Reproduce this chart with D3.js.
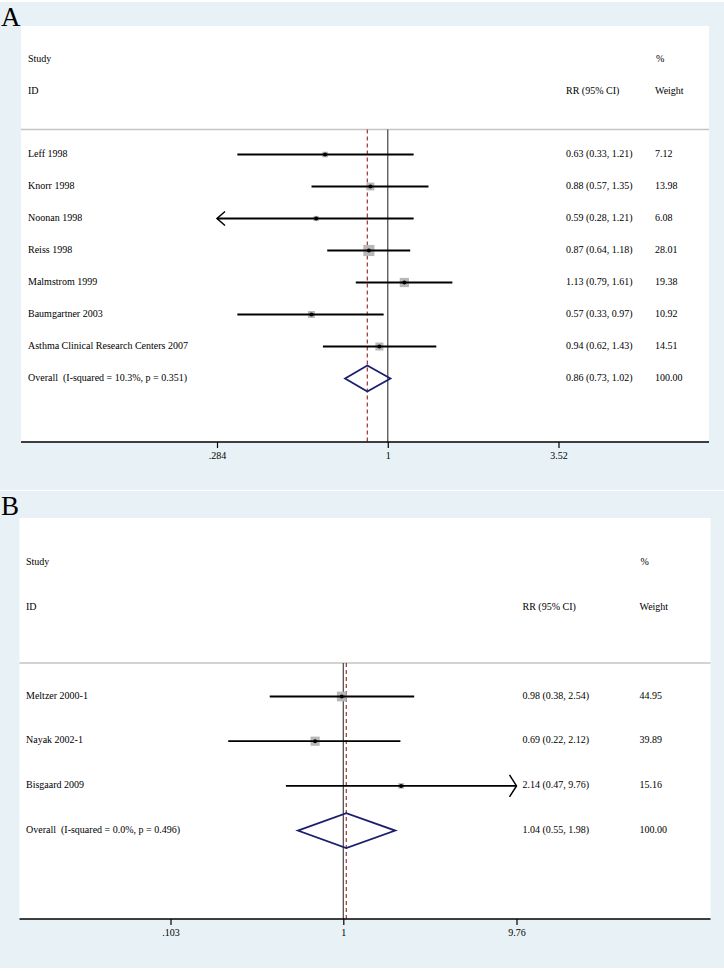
<!DOCTYPE html>
<html>
<head>
<meta charset="utf-8">
<script src="https://cdn.jsdelivr.net/npm/d3@7/dist/d3.min.js"></script>
<style>
  html, body { margin: 0; padding: 0; background: #ffffff; }
  svg { display: block; }
  text { font-family: "Liberation Serif", "Times New Roman", serif; fill: #000; }
</style>
</head>
<body>
<svg id="chart" width="724" height="971"></svg>
<script>
// ---------------- Panel A data ----------------
const studiesA = ["Leff 1998", "Knorr 1998", "Noonan 1998", "Reiss 1998", "Malmstrom 1999", "Baumgartner 2003", "Asthma Clinical Research Centers 2007"];
const rrA      = [0.63, 0.88, 0.59, 0.87, 1.13, 0.57, 0.94];
const lowA     = [0.33, 0.57, 0.28, 0.64, 0.79, 0.33, 0.62];
const highA    = [1.21, 1.35, 1.21, 1.18, 1.61, 0.97, 1.43];
const weightA  = [7.12, 13.98, 6.08, 28.01, 19.38, 10.92, 14.51];
const overallLabelA = "Overall  (I-squared = 10.3%, p = 0.351)";
const overallA = [0.86, 0.73, 1.02];   // RR, low, high
const overallWeightA = 100.00;
const ticksA = [0.284, 1, 3.52];
const tickLabelsA = [".284", "1", "3.52"];

// ---------------- Panel B data ----------------
const studiesB = ["Meltzer 2000-1", "Nayak 2002-1", "Bisgaard 2009"];
const rrB      = [0.98, 0.69, 2.14];
const lowB     = [0.38, 0.22, 0.47];
const highB    = [2.54, 2.12, 9.76];
const weightB  = [44.95, 39.89, 15.16];
const overallLabelB = "Overall  (I-squared = 0.0%, p = 0.496)";
const overallB = [1.04, 0.55, 1.98];
const overallWeightB = 100.00;
const ticksB = [0.103, 1, 9.76];
const tickLabelsB = [".103", "1", "9.76"];

const headerStudy = "Study", headerID = "ID", headerRR = "RR (95% CI)", headerPct = "%", headerWeight = "Weight";

const svg = d3.select("#chart");
const BG = "#e8f2f6";

function fmt2(v) { return v.toFixed(2); }

function drawPanel(cfg) {
  const g = svg.append("g");
  // backgrounds
  g.append("rect").attr("x", 0).attr("y", cfg.bgTop).attr("width", 724).attr("height", cfg.bgBottom - cfg.bgTop).attr("fill", BG);
  g.append("rect").attr("x", cfg.left).attr("y", cfg.top).attr("width", cfg.right - cfg.left).attr("height", cfg.axisY - cfg.top).attr("fill", "#ffffff");

  // panel letter
  g.append("text").attr("x", 1).attr("y", cfg.letterY).attr("font-size", 27).text(cfg.letter);

  const x = d3.scaleLog().domain(cfg.domain).range(cfg.range);
  const n = cfg.studies.length;
  const rows = d3.range(n + 1);
  const y = d3.scaleLinear().domain([0, n]).range([cfg.firstRow, cfg.firstRow + cfg.step * n]);

  // headers
  const fs = 10;
  const hdr = g.append("g").attr("font-size", fs);
  hdr.append("text").attr("x", cfg.studyX).attr("y", cfg.h1).attr("dominant-baseline", "middle").text(headerStudy);
  hdr.append("text").attr("x", cfg.studyX).attr("y", cfg.h2).attr("dominant-baseline", "middle").text(headerID);
  hdr.append("text").attr("x", cfg.ciX).attr("y", cfg.h2).attr("dominant-baseline", "middle").text(headerRR);
  hdr.append("text").attr("x", cfg.wX + 1).attr("y", cfg.h1).attr("dominant-baseline", "middle").text(headerPct);
  hdr.append("text").attr("x", cfg.wX).attr("y", cfg.h2).attr("dominant-baseline", "middle").text(headerWeight);

  // header separator
  g.append("line").attr("x1", cfg.left).attr("x2", cfg.right).attr("y1", cfg.sepY).attr("y2", cfg.sepY)
    .attr("stroke", "#c4c4c4").attr("stroke-width", 1.5);

  // null line at 1
  g.append("line").attr("x1", x(1)).attr("x2", x(1)).attr("y1", cfg.sepY).attr("y2", cfg.axisY)
    .attr("stroke", "#444").attr("stroke-width", 1.2);
  // overall effect dashed line
  g.append("line").attr("x1", x(cfg.overall[0])).attr("x2", x(cfg.overall[0])).attr("y1", cfg.sepY).attr("y2", cfg.axisY)
    .attr("stroke", "#a3302e").attr("stroke-width", 1.2).attr("stroke-dasharray", "4,3");

  const dMin = cfg.domain[0], dMax = cfg.domain[1];
  const idx = d3.range(n);

  // boxes
  g.selectAll(".box").data(idx).join("rect")
    .attr("x", i => x(cfg.rr[i]) - cfg.k * Math.sqrt(cfg.weight[i]) / 2)
    .attr("y", i => y(i) - cfg.k * Math.sqrt(cfg.weight[i]) / 2)
    .attr("width", i => cfg.k * Math.sqrt(cfg.weight[i]))
    .attr("height", i => cfg.k * Math.sqrt(cfg.weight[i]))
    .attr("fill", "#b8b8b8");

  // CI lines
  g.selectAll(".ci").data(idx).join("line")
    .attr("x1", i => x(Math.max(cfg.low[i], dMin)))
    .attr("x2", i => x(Math.min(cfg.high[i], dMax)))
    .attr("y1", i => y(i)).attr("y2", i => y(i))
    .attr("stroke", "#000").attr("stroke-width", 1.8);

  // arrows for truncated CIs
  idx.forEach(i => {
    if (cfg.low[i] <= dMin) {
      const x0 = x(dMin), yy = y(i);
      g.append("path").attr("d", `M${x0 + cfg.arrLen},${yy - cfg.arrHalf}L${x0},${yy}L${x0 + cfg.arrLen},${yy + cfg.arrHalf}`)
        .attr("fill", "none").attr("stroke", "#000").attr("stroke-width", 1.5);
    }
    if (cfg.high[i] >= dMax) {
      const x0 = x(dMax), yy = y(i);
      g.append("path").attr("d", `M${x0 - cfg.arrLen},${yy - cfg.arrHalf}L${x0},${yy}L${x0 - cfg.arrLen},${yy + cfg.arrHalf}`)
        .attr("fill", "none").attr("stroke", "#000").attr("stroke-width", 1.5);
    }
  });

  // point estimate dots
  g.selectAll(".pt").data(idx).join("circle")
    .attr("cx", i => x(cfg.rr[i])).attr("cy", i => y(i)).attr("r", 2).attr("fill", "#000");

  // overall diamond
  const oy = y(n);
  const [orr, olo, ohi] = cfg.overall;
  g.append("path")
    .attr("d", `M${x(olo)},${oy}L${x(orr)},${oy - cfg.dH}L${x(ohi)},${oy}L${x(orr)},${oy + cfg.dH}Z`)
    .attr("fill", "none").attr("stroke", "#1b1f6e").attr("stroke-width", 1.8);

  // row texts
  const labels = cfg.studies.concat([cfg.overallLabel]);
  const ciTexts = idx.map(i => `${fmt2(cfg.rr[i])} (${fmt2(cfg.low[i])}, ${fmt2(cfg.high[i])})`)
    .concat([`${fmt2(orr)} (${fmt2(olo)}, ${fmt2(ohi)})`]);
  const wTexts = cfg.weight.map(fmt2).concat([fmt2(cfg.overallWeight)]);
  const tg = g.append("g").attr("font-size", fs);
  tg.selectAll(".lab").data(rows).join("text")
    .attr("x", cfg.studyX).attr("y", i => y(i)).attr("dominant-baseline", "middle")
    .style("white-space", "pre").text(i => labels[i]);
  tg.selectAll(".cit").data(rows).join("text")
    .attr("x", cfg.ciX).attr("y", i => y(i)).attr("dominant-baseline", "middle").text(i => ciTexts[i]);
  tg.selectAll(".wt").data(rows).join("text")
    .attr("x", cfg.wX).attr("y", i => y(i)).attr("dominant-baseline", "middle").text(i => wTexts[i]);

  // axis
  const axis = d3.axisBottom(x).tickValues(cfg.ticks).tickFormat((d, i) => cfg.tickLabels[i])
    .tickSize(6).tickPadding(4).tickSizeOuter(0);
  const ag = g.append("g").attr("transform", `translate(0,${cfg.axisY})`).call(axis);
  ag.select(".domain").remove();
  ag.selectAll(".tick line").attr("stroke", "#000").attr("stroke-width", 1.2);
  ag.selectAll(".tick text").attr("font-family", '"Liberation Serif", "Times New Roman", serif').attr("font-size", fs).attr("fill", "#000");
  g.append("line").attr("x1", cfg.left).attr("x2", cfg.right).attr("y1", cfg.axisY).attr("y2", cfg.axisY)
    .attr("stroke", "#000").attr("stroke-width", 1.6);
}

drawPanel({
  letter: "A", letterY: 25.5, bgTop: 2, bgBottom: 490,
  left: 21, right: 709, top: 26, axisY: 442, sepY: 129.5,
  h1: 60, h2: 92, firstRow: 154.5, step: 32,
  studyX: 28, ciX: 566, wX: 655,
  domain: [ticksA[0], ticksA[2]], range: [217, 558.5],
  studies: studiesA, rr: rrA, low: lowA, high: highA, weight: weightA,
  overall: overallA, overallLabel: overallLabelA, overallWeight: overallWeightA,
  ticks: ticksA, tickLabels: tickLabelsA,
  k: 2.1, dH: 13, arrLen: 8, arrHalf: 7
});

drawPanel({
  letter: "B", letterY: 515, bgTop: 491, bgBottom: 968,
  left: 19.5, right: 710.5, top: 518, axisY: 919, sepY: 663,
  h1: 563, h2: 608, firstRow: 696.5, step: 44.7,
  studyX: 26, ciX: 522.5, wX: 639.5,
  domain: [ticksB[0], ticksB[2]], range: [170.5, 516.5],
  studies: studiesB, rr: rrB, low: lowB, high: highB, weight: weightB,
  overall: overallB, overallLabel: overallLabelB, overallWeight: overallWeightB,
  ticks: ticksB, tickLabels: tickLabelsB,
  k: 1.45, dH: 17.5, arrLen: 7, arrHalf: 11
});
</script>
</body>
</html>
